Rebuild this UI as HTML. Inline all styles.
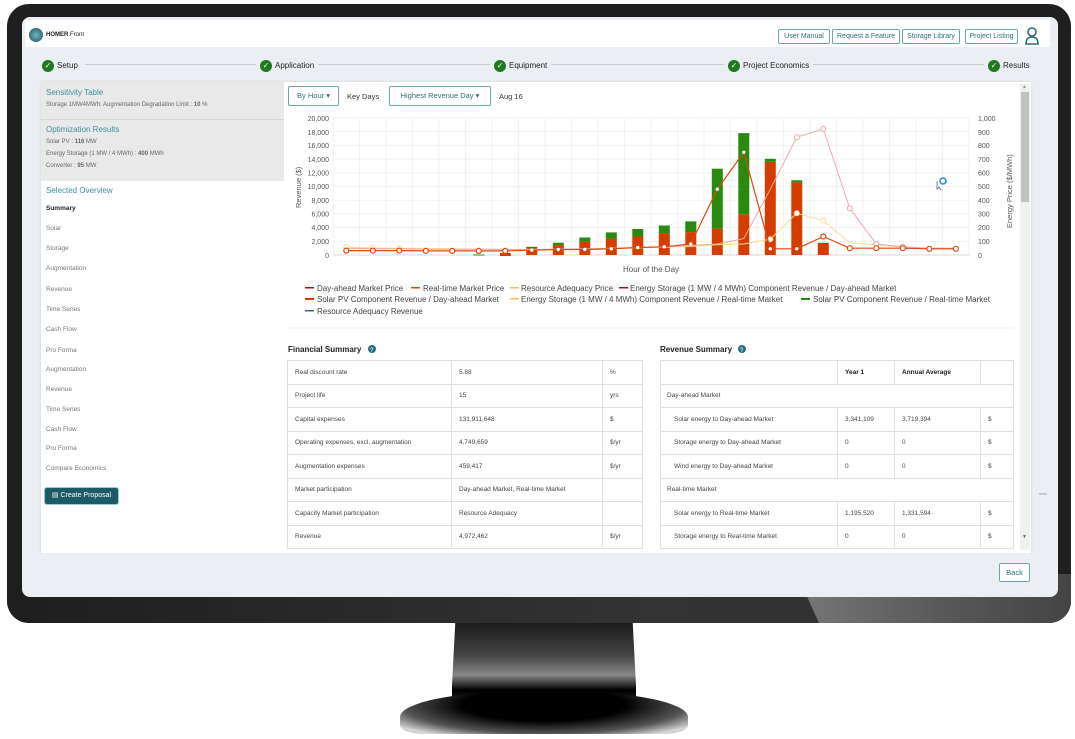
<!DOCTYPE html>
<html><head><meta charset="utf-8">
<style>
*{margin:0;padding:0;box-sizing:border-box}
body{width:1075px;height:739px;background:#fff;position:relative;overflow:hidden;font-family:"Liberation Sans",sans-serif;color:#333}
.a{position:absolute}
.t{position:absolute;font-size:7px;white-space:nowrap;color:#444}
.btn{position:absolute;border:1px solid #6aa5b0;border-radius:2px;font-size:7px;color:#2c6e7a;text-align:center;background:#fff}
.step{position:absolute;font-size:8px;color:#222;top:60px}
.ck{display:inline-block;width:12px;height:12px;border-radius:50%;background:#1f7a1f;color:#fff;font-size:8px;text-align:center;line-height:12px;vertical-align:middle;margin-right:3px}
.side{position:absolute;left:46px;font-size:6.5px;color:#777}
table{border-collapse:collapse;position:absolute;font-size:6.5px;color:#444;background:#fff}
td{border:1px solid #dde1e5;padding-left:7px;height:23.5px}
</style></head><body>
<!-- stand -->
<div class="a" style="left:452px;top:615px;width:184px;height:100px;background:linear-gradient(#111 0%,#444 40%,#888 60%,#000 75%,#333 100%);clip-path:polygon(2% 0,98% 0,100% 70%,110% 100%,-10% 100%,0 70%)"></div>
<div class="a" style="left:400px;top:692px;width:288px;height:42px;background:radial-gradient(ellipse at 50% 30%,#000 40%,#555 70%,#ddd 90%,#555 100%);border-radius:40% 40% 10% 10%/60% 60% 20% 20%"></div>
<!-- bezel -->
<div class="a" style="left:7px;top:4px;width:1064px;height:619px;border-radius:22px;background:#1f1f1f;overflow:hidden">
<div class="a" style="left:0;top:570px;width:1064px;height:49px;background:linear-gradient(90deg,#1e1e1e 0%,#333 60%,#303030 100%)"></div>
<div class="a" style="left:790px;top:570px;width:274px;height:49px;background:linear-gradient(90deg,#777,#555 60%,#444);clip-path:polygon(0 0,100% 0,100% 100%,8% 100%)"></div>
</div>
<!-- screen -->
<div class="a" style="left:22px;top:17px;width:1036px;height:580px;background:#ebeef2;border-radius:8px"></div>
<div class="a" style="left:25px;top:20px;width:1025px;height:27px;background:#fff"></div>
<div class="a" style="left:29px;top:28px;width:14px;height:14px;border-radius:50%;background:radial-gradient(#6fb3bd,#1e5260)"></div>
<div class="t" style="left:46px;top:32px;font-size:6px;color:#222"><b>HOMER</b> Front</div>
<div class="btn" style="left:778px;top:29px;width:52px;height:15px;line-height:13px">User Manual</div>
<div class="btn" style="left:832px;top:29px;width:68px;height:15px;line-height:13px">Request a Feature</div>
<div class="btn" style="left:902px;top:29px;width:58px;height:15px;line-height:13px">Storage Library</div>
<div class="btn" style="left:965px;top:29px;width:53px;height:15px;line-height:13px">Project Listing</div>
<svg class="a" style="left:1024px;top:27px" width="16" height="18"><circle cx="8" cy="5" r="4" fill="none" stroke="#2c6e7a" stroke-width="1.6"/><path d="M2 17 Q2 10 8 10 Q14 10 14 17 Z" fill="none" stroke="#2c6e7a" stroke-width="1.6"/></svg>
<!-- steps -->
<div class="a" style="left:85px;top:64px;width:940px;height:1px;background:#c8ccd0"></div>
<div class="step" style="left:42px;background:#ebeef2;padding-right:4px"><span class="ck">✓</span>Setup</div>
<div class="step" style="left:256px;background:#ebeef2;padding:0 4px"><span class="ck">✓</span>Application</div>
<div class="step" style="left:490px;background:#ebeef2;padding:0 4px"><span class="ck">✓</span>Equipment</div>
<div class="step" style="left:724px;background:#ebeef2;padding:0 4px"><span class="ck">✓</span>Project Economics</div>
<div class="step" style="left:984px;background:#ebeef2;padding-left:4px"><span class="ck">✓</span>Results</div>
<!-- main card -->
<div class="a" style="left:41px;top:82px;width:990px;height:471px;background:#fff;box-shadow:0 0 2px #ccc"></div>
<div class="a" style="left:41px;top:82px;width:243px;height:99px;background:#e9e9e9"></div>
<div class="a" style="left:41px;top:119px;width:243px;height:1px;background:#d5d5d5"></div>
<div class="t" style="left:46px;top:88px;font-size:8px;color:#3f8fa0">Sensitivity Table</div>
<div class="t" style="left:46px;top:102px;font-size:6px;color:#666">Storage 1MW4MWh: Augmentation Degradation Limit : <b>10</b> %</div>
<div class="t" style="left:46px;top:125px;font-size:8px;color:#3f8fa0">Optimization Results</div>
<div class="t" style="left:46px;top:139px;font-size:6px;color:#666">Solar PV : <b>116</b> MW</div>
<div class="t" style="left:46px;top:151px;font-size:6px;color:#666">Energy Storage (1 MW / 4 MWh) : <b>400</b> MWh</div>
<div class="t" style="left:46px;top:163px;font-size:6px;color:#666">Converter : <b>95</b> MW</div>
<div class="t" style="left:46px;top:186px;font-size:8px;color:#3f8fa0">Selected Overview</div>
<div class="side" style="top:205px;color:#222;font-weight:bold">Summary</div>
<div class="side" style="top:225px">Solar</div>
<div class="side" style="top:245px">Storage</div>
<div class="side" style="top:265px">Augmentation</div>
<div class="side" style="top:286px">Revenue</div>
<div class="side" style="top:306px">Time Series</div>
<div class="side" style="top:326px">Cash Flow</div>
<div class="side" style="top:347px">Pro Forma</div>
<div class="side" style="top:366px">Augmentation</div>
<div class="side" style="top:386px">Revenue</div>
<div class="side" style="top:406px">Time Series</div>
<div class="side" style="top:426px">Cash Flow</div>
<div class="side" style="top:445px">Pro Forma</div>
<div class="side" style="top:465px">Compare Economics</div>
<div class="a" style="left:45px;top:488px;width:73px;height:16px;background:#1e5a66;border-radius:2px;color:#fff;font-size:7px;text-align:center;line-height:16px;box-shadow:0 0 0 1px #9cc">▤ Create Proposal</div>
<!-- scrollbar -->
<div class="a" style="left:1020px;top:84px;width:10px;height:466px;background:#f0f0f0"></div>
<div class="a" style="left:1021px;top:92px;width:8px;height:110px;background:#c1c1c1"></div>
<div class="t" style="left:1022px;top:84px;font-size:5px;color:#999">▲</div>
<div class="t" style="left:1022px;top:534px;font-size:5px;color:#666">▼</div>
<!-- chart controls -->
<div class="btn" style="left:288px;top:86px;width:51px;height:20px;line-height:18px;font-size:7.5px">By Hour ▾</div>
<div class="t" style="left:347px;top:92px;font-size:7.5px;color:#333">Key Days</div>
<div class="btn" style="left:389px;top:86px;width:102px;height:20px;line-height:18px;font-size:7.5px">Highest Revenue Day ▾</div>
<div class="t" style="left:499px;top:92px;font-size:7.5px;color:#333">Aug 16</div>
<svg class="a" style="left:0;top:0" width="1075" height="739">
<g stroke="#ececec" stroke-width="0.7">
<line x1="333" y1="118" x2="970" y2="118"/><line x1="333" y1="131.7" x2="970" y2="131.7"/><line x1="333" y1="145.4" x2="970" y2="145.4"/><line x1="333" y1="159.1" x2="970" y2="159.1"/><line x1="333" y1="172.8" x2="970" y2="172.8"/><line x1="333" y1="186.5" x2="970" y2="186.5"/><line x1="333" y1="200.2" x2="970" y2="200.2"/><line x1="333" y1="213.9" x2="970" y2="213.9"/><line x1="333" y1="227.6" x2="970" y2="227.6"/><line x1="333" y1="241.3" x2="970" y2="241.3"/>
<line x1="333" y1="118" x2="333" y2="255"/><line x1="359.5" y1="118" x2="359.5" y2="255"/><line x1="386" y1="118" x2="386" y2="255"/><line x1="412.5" y1="118" x2="412.5" y2="255"/><line x1="439" y1="118" x2="439" y2="255"/><line x1="465.5" y1="118" x2="465.5" y2="255"/><line x1="492" y1="118" x2="492" y2="255"/><line x1="518.5" y1="118" x2="518.5" y2="255"/><line x1="545" y1="118" x2="545" y2="255"/><line x1="571.5" y1="118" x2="571.5" y2="255"/><line x1="598" y1="118" x2="598" y2="255"/><line x1="624.5" y1="118" x2="624.5" y2="255"/><line x1="651" y1="118" x2="651" y2="255"/><line x1="677.5" y1="118" x2="677.5" y2="255"/><line x1="704" y1="118" x2="704" y2="255"/><line x1="730.5" y1="118" x2="730.5" y2="255"/><line x1="757" y1="118" x2="757" y2="255"/><line x1="783.5" y1="118" x2="783.5" y2="255"/><line x1="810" y1="118" x2="810" y2="255"/><line x1="836.5" y1="118" x2="836.5" y2="255"/><line x1="863" y1="118" x2="863" y2="255"/><line x1="889.5" y1="118" x2="889.5" y2="255"/><line x1="916" y1="118" x2="916" y2="255"/><line x1="942.5" y1="118" x2="942.5" y2="255"/><line x1="969" y1="118" x2="969" y2="255"/>
</g>
<line x1="333" y1="255" x2="970" y2="255" stroke="#ccc" stroke-width="0.8"/>
<g font-family="Liberation Sans" font-size="7" fill="#555" text-anchor="end">
<text x="329" y="121">20,000</text><text x="329" y="148">16,000</text><text x="329" y="162">14,000</text><text x="329" y="135">18,000</text><text x="329" y="175.5">12,000</text><text x="329" y="189">10,000</text><text x="329" y="203">8,000</text><text x="329" y="216.5">6,000</text><text x="329" y="230">4,000</text><text x="329" y="244">2,000</text><text x="329" y="258">0</text>
</g>
<g font-family="Liberation Sans" font-size="7" fill="#555">
<text x="978" y="121">1,000</text><text x="978" y="135">900</text><text x="978" y="148">800</text><text x="978" y="162">700</text><text x="978" y="175.5">600</text><text x="978" y="189">500</text><text x="978" y="203">400</text><text x="978" y="216.5">300</text><text x="978" y="230">200</text><text x="978" y="244">100</text><text x="978" y="258">0</text>
<text x="623" y="272" font-size="8">Hour of the Day</text>
<text transform="translate(301,208) rotate(-90)" font-size="7.5">Revenue ($)</text>
<text transform="translate(1012,228) rotate(-90)" font-size="7.5">Energy Price ($/MWh)</text>
</g>
<g>
<rect x="473.3" y="254.5" width="11" height="1" fill="#2a8a10"/>
<rect x="499.8" y="253" width="11" height="3" fill="#d43d00"/>
<rect x="526.3" y="248.2" width="11" height="6.8" fill="#d43d00"/><rect x="526.3" y="246.8" width="11" height="1.4" fill="#2a8a10"/>
<rect x="552.8" y="245.1" width="11" height="9.9" fill="#d43d00"/><rect x="552.8" y="242.7" width="11" height="2.4" fill="#2a8a10"/>
<rect x="579.3" y="241.6" width="11" height="13.4" fill="#d43d00"/><rect x="579.3" y="237.5" width="11" height="4.1" fill="#2a8a10"/>
<rect x="605.8" y="238.6" width="11" height="16.4" fill="#d43d00"/><rect x="605.8" y="232.4" width="11" height="6.2" fill="#2a8a10"/>
<rect x="632.3" y="236.5" width="11" height="18.5" fill="#d43d00"/><rect x="632.3" y="229" width="11" height="7.5" fill="#2a8a10"/>
<rect x="658.8" y="233.1" width="11" height="21.9" fill="#d43d00"/><rect x="658.8" y="225.5" width="11" height="7.6" fill="#2a8a10"/>
<rect x="685.3" y="232.1" width="11" height="22.9" fill="#d43d00"/><rect x="685.3" y="221.4" width="11" height="10.7" fill="#2a8a10"/>
<rect x="711.8" y="228.6" width="11" height="26.4" fill="#d43d00"/><rect x="711.8" y="168.7" width="11" height="59.9" fill="#2a8a10"/>
<rect x="738.3" y="214.2" width="11" height="40.8" fill="#d43d00"/><rect x="738.3" y="133.1" width="11" height="81.1" fill="#2a8a10"/>
<rect x="764.8" y="161.8" width="11" height="93.2" fill="#d43d00"/><rect x="764.8" y="158.8" width="11" height="3" fill="#2a8a10"/>
<rect x="791.3" y="182.4" width="11" height="72.6" fill="#d43d00"/><rect x="791.3" y="180.3" width="11" height="2.1" fill="#2a8a10"/>
<rect x="817.8" y="244" width="11" height="11" fill="#d43d00"/><rect x="817.8" y="242.8" width="11" height="1.2" fill="#2a8a10"/>
</g>
<polyline fill="none" stroke="#f7dc8f" stroke-width="1" points="346.3,247.1 372.8,247.9 399.3,248.2 425.8,248.4 452.3,248.7 478.8,249 505.3,249.2 531.8,249.5 558.3,249.2 584.8,249 611.3,248.4 637.8,247.9 664.3,247.3 690.8,246.5 717.3,244.7 743.8,244 770.3,239.2 796.8,213.2 823.3,220.8 849.8,242.7 876.3,244.7 902.8,247.5 929.3,248.2 955.8,248.2"/>
<g fill="#fff" stroke="#f7dc8f" stroke-width="1"><circle cx="346.3" cy="247.1" r="2.5"/><circle cx="372.8" cy="247.9" r="2.5"/><circle cx="399.3" cy="248.2" r="2.5"/><circle cx="796.8" cy="213.2" r="2.5"/><circle cx="823.3" cy="220.8" r="2.5"/><circle cx="770.3" cy="239.2" r="2.5"/></g>
<polyline fill="none" stroke="#e9a8a8" stroke-width="1" points="346.3,248.2 372.8,248.8 399.3,248.8 425.8,249.2 452.3,249.2 478.8,249.2 505.3,249.5 531.8,249.5 558.3,249.2 584.8,248.8 611.3,248.2 637.8,247.5 664.3,246.8 690.8,245.4 717.3,244 743.8,238.6 770.3,189.2 796.8,137.2 823.3,129 849.8,208.4 876.3,244 902.8,246.8 929.3,248.2 955.8,248.2"/>
<g fill="#fff" stroke="#e9a8a8" stroke-width="1"><circle cx="796.8" cy="137.2" r="2.5"/><circle cx="823.3" cy="129" r="2.5"/><circle cx="849.8" cy="208.4" r="2.5"/><circle cx="876.3" cy="244" r="2.5"/><circle cx="902.8" cy="246.8" r="2.5"/></g>
<polyline fill="none" stroke="#e0480f" stroke-width="1.2" points="346.3,250.6 372.8,250.6 399.3,250.6 425.8,250.9 452.3,250.9 478.8,250.9 505.3,250.9 531.8,250.2 558.3,249.5 584.8,249.5 611.3,248.8 637.8,247.5 664.3,246.8 690.8,244 717.3,189.2 743.8,152.3 770.3,248.8 796.8,248.8 823.3,236.5 849.8,248.2 876.3,248.2 902.8,248.2 929.3,248.8 955.8,248.8"/>
<g fill="#fff" stroke="#e0480f" stroke-width="1.2"><circle cx="346.3" cy="250.6" r="2.5"/><circle cx="372.8" cy="250.6" r="2.5"/><circle cx="399.3" cy="250.6" r="2.5"/><circle cx="425.8" cy="250.9" r="2.5"/><circle cx="452.3" cy="250.9" r="2.5"/><circle cx="478.8" cy="250.9" r="2.5"/><circle cx="505.3" cy="250.9" r="2.5"/><circle cx="823.3" cy="236.5" r="2.5"/><circle cx="849.8" cy="248.2" r="2.5"/><circle cx="876.3" cy="248.2" r="2.5"/><circle cx="902.8" cy="248.2" r="2.5"/><circle cx="929.3" cy="248.8" r="2.5"/><circle cx="955.8" cy="248.8" r="2.5"/></g>
<g fill="#fff"><circle cx="531.8" cy="250.2" r="1.7"/><circle cx="558.3" cy="249.5" r="1.7"/><circle cx="584.8" cy="249.5" r="1.7"/><circle cx="611.3" cy="248.8" r="1.7"/><circle cx="637.8" cy="247.5" r="1.7"/><circle cx="664.3" cy="246.8" r="1.7"/><circle cx="690.8" cy="244" r="1.7"/><circle cx="717.3" cy="189.2" r="1.7"/><circle cx="743.8" cy="152.3" r="1.7"/><circle cx="770.3" cy="248.8" r="1.7"/><circle cx="796.8" cy="248.8" r="1.7"/></g>
<circle cx="943" cy="181" r="3" fill="none" stroke="#1e88e5" stroke-width="1.5"/>
<path d="M937 181 L937 189 L939 187 L941 190" fill="none" stroke="#555" stroke-width="0.7"/>
<g font-family="Liberation Sans" font-size="8" fill="#444">
<rect x="305" y="287" width="9" height="1.5" fill="#b01010"/><text x="317" y="291">Day-ahead Market Price</text>
<rect x="411" y="287" width="9" height="1.5" fill="#e0480f"/><text x="423" y="291">Real-time Market Price</text>
<rect x="510" y="287" width="9" height="1.5" fill="#f5c542"/><text x="521" y="291">Resource Adequacy Price</text>
<rect x="619" y="287" width="9" height="1.5" fill="#b01010"/><text x="630" y="291">Energy Storage (1 MW / 4 MWh) Component Revenue / Day-ahead Market</text>
<rect x="305" y="298" width="9" height="2" fill="#d43d00"/><text x="317" y="302">Solar PV Component Revenue / Day-ahead Market</text>
<rect x="510" y="298" width="9" height="1.5" fill="#f5c542"/><text x="521" y="302">Energy Storage (1 MW / 4 MWh) Component Revenue / Real-time Market</text>
<rect x="801" y="298" width="9" height="2" fill="#2a8a10"/><text x="813" y="302">Solar PV Component Revenue / Real-time Market</text>
<rect x="305" y="310" width="9" height="1.5" fill="#2c7080"/><text x="317" y="314">Resource Adequacy Revenue</text>
</g>
<line x1="287" y1="328" x2="1014" y2="328" stroke="#eee"/>
<g font-family="Liberation Sans" font-size="8" font-weight="bold" fill="#222">
<text x="288" y="352">Financial Summary</text><text x="660" y="352">Revenue Summary</text></g>
<circle cx="372" cy="349" r="4" fill="#2c7080"/><text x="370" y="352" font-size="6" fill="#fff" font-family="Liberation Sans">?</text>
<circle cx="742" cy="349" r="4" fill="#2c7080"/><text x="740" y="352" font-size="6" fill="#fff" font-family="Liberation Sans">?</text>
<line x1="1039" y1="494" x2="1047" y2="494" stroke="#aaa"/>
</svg>
<table style="left:287px;top:360px;width:356px">
<tr><td style="width:164px">Real discount rate</td><td style="width:151px">5.88</td><td>%</td></tr>
<tr><td>Project life</td><td>15</td><td>yrs</td></tr>
<tr><td>Capital expenses</td><td>131,911,648</td><td>$</td></tr>
<tr><td>Operating expenses, excl. augmentation</td><td>4,749,659</td><td>$/yr</td></tr>
<tr><td>Augmentation expenses</td><td>459,417</td><td>$/yr</td></tr>
<tr><td>Market participation</td><td>Day-ahead Market, Real-time Market</td><td></td></tr>
<tr><td>Capacity Market participation</td><td>Resource Adequacy</td><td></td></tr>
<tr><td>Revenue</td><td>4,972,462</td><td>$/yr</td></tr>
</table>
<table style="left:660px;top:360px;width:354px">
<tr><td style="width:177px"></td><td style="width:57px;font-weight:bold;color:#222">Year 1</td><td style="width:86px;font-weight:bold;color:#222">Annual Average</td><td></td></tr>
<tr><td colspan="4" style="padding-left:6px">Day-ahead Market</td></tr>
<tr><td style="padding-left:13px">Solar energy to Day-ahead Market</td><td>3,341,109</td><td>3,719,394</td><td>$</td></tr>
<tr><td style="padding-left:13px">Storage energy to Day-ahead Market</td><td>0</td><td>0</td><td>$</td></tr>
<tr><td style="padding-left:13px">Wind energy to Day-ahead Market</td><td>0</td><td>0</td><td>$</td></tr>
<tr><td colspan="4" style="padding-left:6px">Real-time Market</td></tr>
<tr><td style="padding-left:13px">Solar energy to Real-time Market</td><td>1,195,520</td><td>1,331,594</td><td>$</td></tr>
<tr><td style="padding-left:13px">Storage energy to Real-time Market</td><td>0</td><td>0</td><td>$</td></tr>
</table>
<div class="a" style="left:284px;top:549px;width:736px;height:4px;background:#fff"></div>
<div class="a" style="left:41px;top:553px;width:990px;height:8px;background:#ebeef2"></div>
<div class="btn" style="left:999px;top:563px;width:31px;height:19px;line-height:17px;font-size:7.5px">Back</div>
</body></html>
